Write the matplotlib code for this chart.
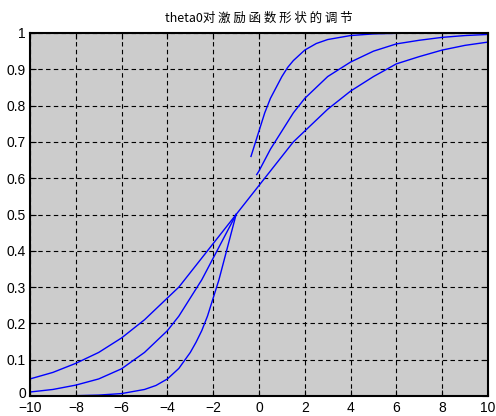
import matplotlib.pyplot as plt
import matplotlib.transforms as mtransforms

plt.rcParams['font.family'] = ['Liberation Sans', 'Noto Sans CJK SC', 'DejaVu Sans']

# curves (three theta0 values, all cross at (-1, 0.5))
# left parts, x from -10 to -1
xa_left = [-10, -9, -8, -7, -6, -5, -4.5, -4, -3.5, -3, -2.75, -2.5, -2.25, -2, -1.75, -1.5, -1.25, -1]
a_left = [0.0001, 0.0003, 0.0009, 0.0025, 0.0067, 0.018, 0.029, 0.047, 0.076, 0.12, 0.148,
          0.18, 0.22, 0.27, 0.32, 0.38, 0.44, 0.5]
xb_left = [-10, -9, -8, -7, -6, -5, -4, -3.5, -3, -2.5, -2, -1.5, -1]
b_left = [0.011, 0.018, 0.03, 0.047, 0.075, 0.12, 0.18, 0.22, 0.27, 0.32, 0.38, 0.44, 0.5]
xc_left = [-10, -9, -8, -7, -6, -5, -4, -3.5, -3, -2.5, -2, -1.5, -1]
c_left = [0.047, 0.065, 0.09, 0.12, 0.16, 0.21, 0.27, 0.30, 0.34, 0.38, 0.42, 0.46, 0.5]

# right parts
xa_right = [-0.35, -0.2, 0, 0.25, 0.5, 0.75, 1, 1.25, 1.5, 2, 2.5, 3, 4, 5, 6, 8, 10]
a_right = [0.66, 0.69, 0.73, 0.78, 0.82, 0.85, 0.88, 0.905, 0.924, 0.953, 0.971, 0.982,
           0.993, 0.9975, 0.9991, 0.9999, 1.0]
xb_right = [-0.1, 0, 0.5, 1, 1.5, 2, 2.5, 3, 4, 5, 6, 7, 8, 9, 10]
b_right = [0.61, 0.62, 0.68, 0.73, 0.78, 0.82, 0.85, 0.88, 0.92, 0.95, 0.97, 0.98, 0.988, 0.993, 0.996]
xc_right = [-1, -0.5, 0, 0.5, 1, 1.5, 2, 3, 4, 5, 6, 7, 8, 9, 10]
c_right = [0.5, 0.54, 0.58, 0.62, 0.66, 0.7, 0.73, 0.79, 0.84, 0.88, 0.915, 0.935, 0.953, 0.966, 0.975]

x_ticks = list(range(-10, 11, 2))
y_ticks = [i / 10 for i in range(11)]
y_labels = ['0', '0.1', '0.2', '0.3', '0.4', '0.5', '0.6', '0.7', '0.8', '0.9', '1']

fig = plt.figure(figsize=(4.96, 4.16), dpi=100)
ax = fig.add_axes([30 / 496, 20 / 416, 458 / 496, 363 / 416])
ax.set_facecolor('#cccccc')

for xs, ys in [(xa_left, a_left), (xb_left, b_left), (xc_left, c_left),
               (xa_right, a_right), (xb_right, b_right), (xc_right, c_right)]:
    ax.plot(xs, ys, color='#0000ff', linewidth=1.0)

ax.set_xlim(-10, 10)
ax.set_ylim(0, 1)
ax.set_xticks(x_ticks)
ax.set_yticks(y_ticks)
ax.set_yticklabels(y_labels)
ax.tick_params(direction='in', length=4, width=0.8, top=True, right=True, labelsize=10)
ax.tick_params(axis='x', pad=3.5)
ax.tick_params(axis='y', pad=3)
ax.grid(True, color='black', linestyle=(0, (4, 3)), linewidth=0.8)
for s in ax.spines.values():
    s.set_linewidth(1.5)

# nudge the "0" label up a little so it clears "-10"
zero_lbl = ax.get_yticklabels()[0]
zero_lbl.set_transform(zero_lbl.get_transform() +
                       mtransforms.ScaledTranslation(0, 4 / 100, fig.dpi_scale_trans))

ax.set_title('theta0对 激 励 函 数 形 状 的 调 节', fontsize=9, pad=8,
             family=['Noto Sans CJK SC', 'DejaVu Sans'])

fig.savefig('out.png', dpi=100)
